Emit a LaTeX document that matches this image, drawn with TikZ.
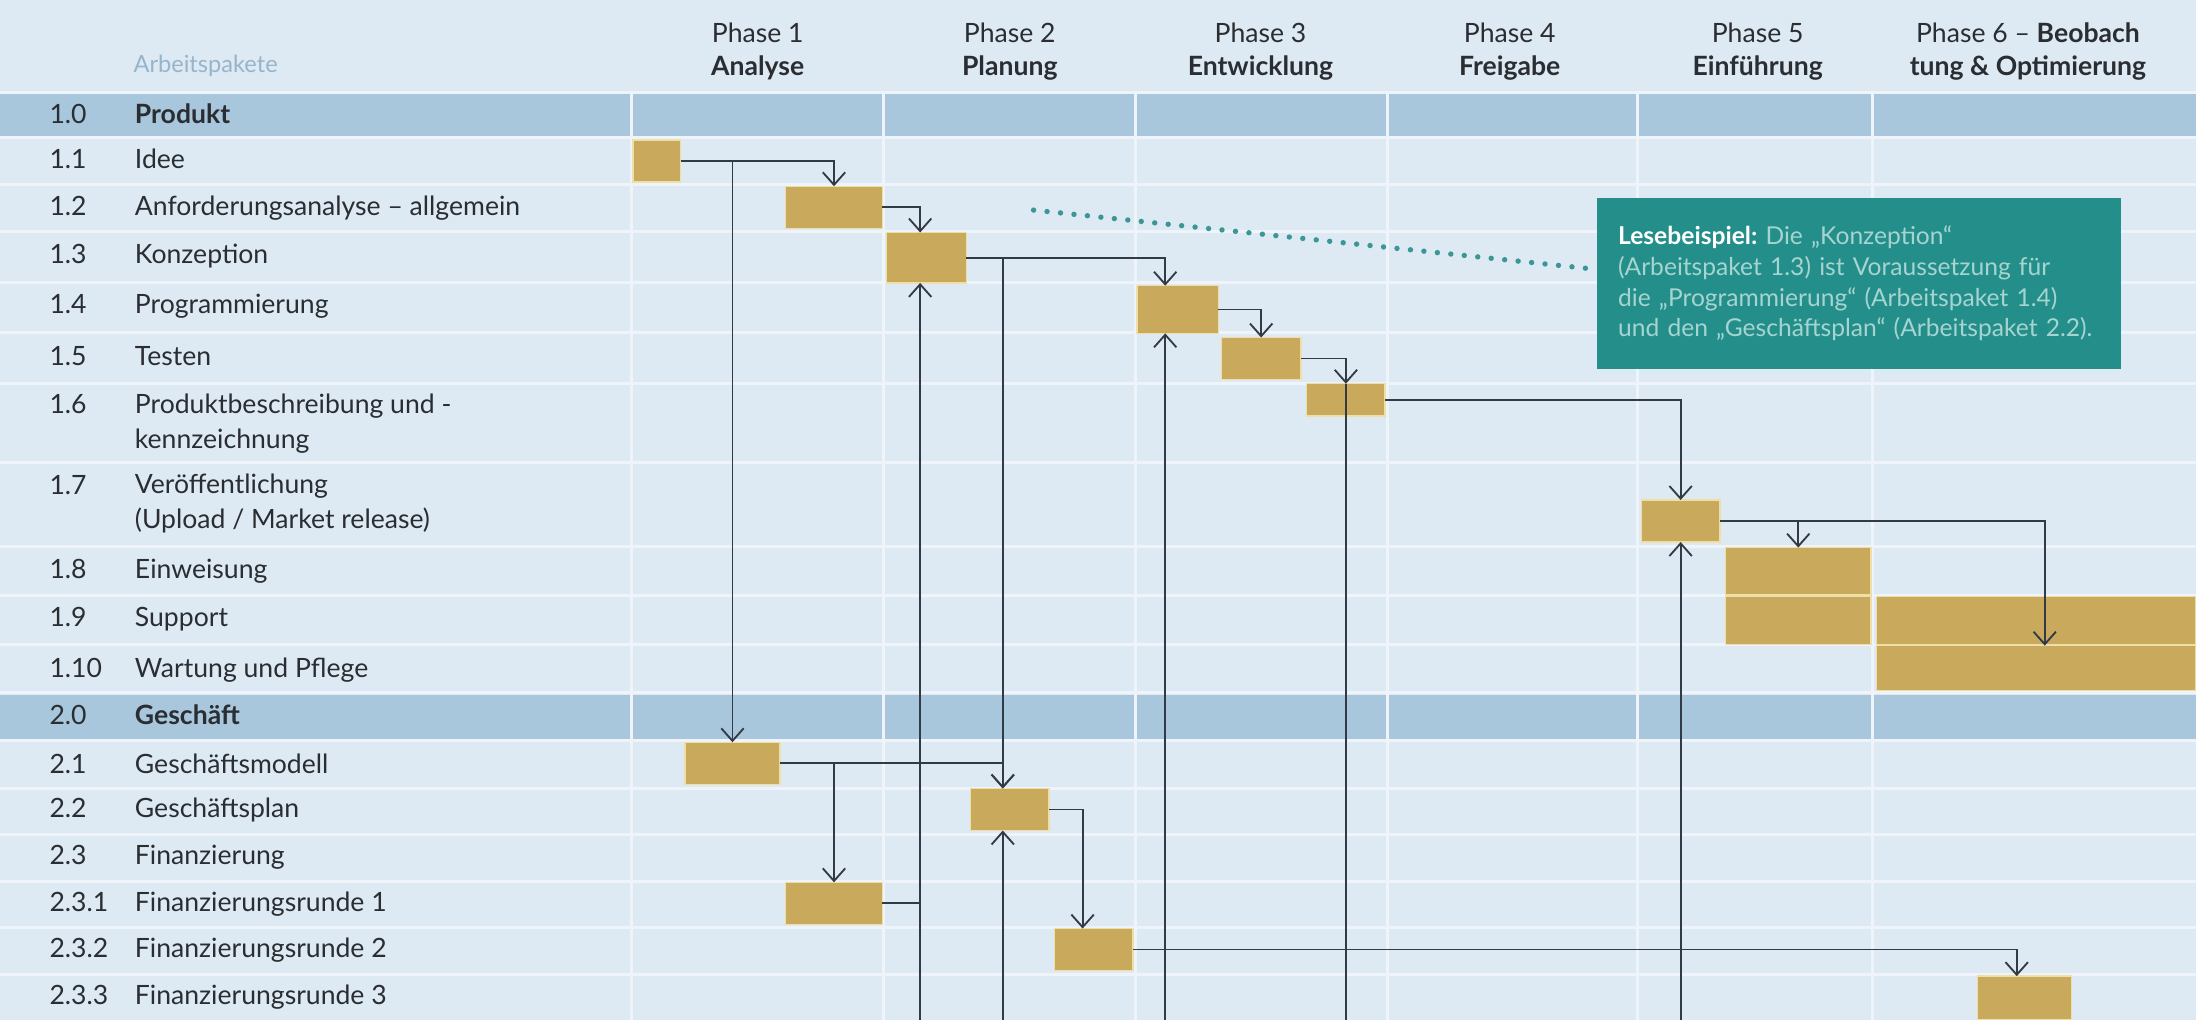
\documentclass[tikz,border=0pt]{standalone}
\usepackage{fontspec}
\setmainfont{Lato}
\usetikzlibrary{arrows.meta,positioning}

\definecolor{bgblue}{RGB}{222,234,243}
\definecolor{secblue}{RGB}{168,199,220}
\definecolor{gridwhite}{RGB}{238,244,249}
\definecolor{gold}{RGB}{201,170,93}
\definecolor{goldedge}{RGB}{238,222,168}
\definecolor{notegreen}{RGB}{36,143,138}
\definecolor{notetxt}{RGB}{165,212,209}
\definecolor{dotgreen}{RGB}{60,150,150}
\definecolor{linegray}{RGB}{50,58,70}
\definecolor{txt}{RGB}{42,45,50}
\definecolor{headtxt}{RGB}{150,180,204}

\newcommand\wpfont{\fontsize{10.8}{14.2}\selectfont}
\newcommand\phfont{\fontsize{10.8}{13.6}\selectfont}
\newcommand\ntfont{\fontsize{10}{12.5}\selectfont}
\newcommand\wpbar[5]{\node[wpbar, minimum width={(#4-#2)*0.02cm}, minimum height={(#5-#3)*0.02cm}] (#1) at ({(#2+#4)/2},{(#3+#5)/2}) {};}

\begin{document}
\begin{tikzpicture}[
  x=0.02cm, y=-0.02cm,
  wpbar/.style={draw=goldedge, line width=0.6pt, fill=gold, inner sep=0pt, outer sep=0pt},
  dep/.style={-{Straight Barb[length=1.8mm,width=3.2mm]}, line width=0.75pt, draw=linegray},
  link/.style={line width=0.75pt, draw=linegray},
  num/.style={anchor=base west, inner sep=0pt, font=\wpfont, text=txt},
  task/.style={anchor=base west, inner sep=0pt, font=\wpfont, text=txt, align=left},
  phase/.style={anchor=base, inner sep=0pt, align=center, font=\phfont, text=txt},
  gridline/.style={draw=gridwhite, line width=1.2pt},
  note/.style={fill=notegreen, text=notetxt, align=left, font=\ntfont, inner xsep=0.3cm, inner ysep=0pt, text width=6.88cm, minimum height=2.44cm},
  pointer/.style={draw=dotgreen, line width=2.2pt, line cap=round, dash pattern=on 0pt off 5.5pt}
]
\useasboundingbox (0,0) rectangle (1568,728);
\fill[bgblue] (0,0) rectangle (1568,728);
\fill[secblue] (0,67) rectangle (1568,98);
\fill[secblue] (0,496) rectangle (1568,528);
\foreach \y in {66,98.5,131.5,165.5,201.5,237.5,273.5,330.5,390.5,425.5,460.5,494.5,528.5,563,596,629.5,662.5,695.5}
  \draw[gridline] (0,\y) -- (1568,\y);
\foreach \x in {451,631,811,991,1169,1337}
  \draw[gridline] (\x,66) -- (\x,728);

\node[anchor=base west, inner sep=0pt, font=\fontsize{9.6}{12}\selectfont, text=headtxt] (head) at (95,52) {Arbeitspakete};
\node[phase] (ph1) at (541,54) {Phase 1\\\textbf{Analyse}};
\node[phase] (ph2) at (721,54) {Phase 2\\\textbf{Planung}};
\node[phase] (ph3) at (900,54) {Phase 3\\\textbf{Entwicklung}};
\node[phase] (ph4) at (1078,54) {Phase 4\\\textbf{Freigabe}};
\node[phase] (ph5) at (1255,54) {Phase 5\\\textbf{Einführung}};
\node[phase] (ph6) at (1448,54) {Phase 6 – \textbf{Beobach}\\\textbf{tung \& Optimierung}};

\node[num] (n10) at (35,88) {1.0};
\node[task] (t10) at (96,88) {\textbf{Produkt}};
\node[num] (n11) at (35,120) {1.1};
\node[task] (t11) at (96,120) {Idee};
\node[num] (n12) at (35,154) {1.2};
\node[task] (t12) at (96,154) {Anforderungsanalyse – allgemein};
\node[num] (n13) at (35,188) {1.3};
\node[task] (t13) at (96,188) {Konzeption};
\node[num] (n14) at (35,224) {1.4};
\node[task] (t14) at (96,224) {Programmierung};
\node[num] (n15) at (35,261) {1.5};
\node[task] (t15) at (96,261) {Testen};
\node[num] (n16) at (35,295) {1.6};
\node[task] (t16) at (96,320) {Produktbeschreibung und -\\kennzeichnung};
\node[num] (n17) at (35,353) {1.7};
\node[task] (t17) at (96,377) {Veröffentlichung\\(Upload / Market release)};
\node[num] (n18) at (35,413) {1.8};
\node[task] (t18) at (96,413) {Einweisung};
\node[num] (n19) at (35,447) {1.9};
\node[task] (t19) at (96,447) {Support};
\node[num] (n110) at (35,484) {1.10};
\node[task] (t110) at (96,484) {Wartung und Pflege};
\node[num] (n20) at (35,517) {2.0};
\node[task] (t20) at (96,517) {\textbf{Geschäft}};
\node[num] (n21) at (35,552) {2.1};
\node[task] (t21) at (96,552) {Geschäftsmodell};
\node[num] (n22) at (35,584) {2.2};
\node[task] (t22) at (96,584) {Geschäftsplan};
\node[num] (n23) at (35,617) {2.3};
\node[task] (t23) at (96,617) {Finanzierung};
\node[num] (n231) at (35,651) {2.3.1};
\node[task] (t231) at (96,651) {Finanzierungsrunde 1};
\node[num] (n232) at (35,684) {2.3.2};
\node[task] (t232) at (96,684) {Finanzierungsrunde 2};
\node[num] (n233) at (35,717) {2.3.3};
\node[task] (t233) at (96,717) {Finanzierungsrunde 3};

\wpbar{b11}{452}{100}{486}{130}
\wpbar{b12}{561}{133}{630}{163}
\wpbar{b13}{633}{166}{690}{202}
\wpbar{b14}{812}{204}{870}{238}
\wpbar{b15}{872}{241}{929}{271}
\wpbar{b16}{933}{274}{989}{297}
\wpbar{b17}{1172}{357}{1228}{387}
\wpbar{b18}{1232}{391}{1336}{425}
\wpbar{b19a}{1232}{426}{1336}{460}
\wpbar{b19b}{1340}{426}{1568}{460}
\wpbar{b110}{1340}{461}{1568}{493}
\wpbar{b21}{489}{530}{557}{560}
\wpbar{b22}{693}{563}{749}{593}
\wpbar{b231}{561}{630}{630}{660}
\wpbar{b232}{753}{663}{809}{693}
\wpbar{b233}{1412}{697}{1479}{728}

\coordinate (bottom) at (0,728);
\coordinate (k13) at (657,0);
\coordinate (k14) at (832,0);
\coordinate (k22) at (716,0);
\coordinate (k232) at (773,0);
\coordinate (k233) at (1440,0);
\coordinate (k110) at (1460,0);

\draw[dep] (b11.east) -| (b12.north);
\draw[dep] (b11.east -| b21.north) -- (b21.north);
\draw[dep] (b12.east) -| (b13.north -| k13);
\draw[dep] (b13.east) -| (b14.north -| k14);
\draw[dep] (b13.east -| k22) -- (b22.north -| k22);
\draw[dep] (bottom -| k13) -- (b13.south -| k13);
\draw[link] (b231.east) -- (b231.east -| k13);
\draw[dep] (bottom -| k22) -- (b22.south -| k22);
\draw[dep] (bottom -| k14) -- (b14.south -| k14);
\draw[dep] (b14.east) -| (b15.north);
\draw[dep] (b15.east) -| (b16.north);
\draw[link] (b16.north) -- (bottom -| b16.north);
\draw[dep] (b16.east) -| (b17.north);
\draw[dep] (bottom -| b17.south) -- (b17.south);
\draw[dep] (b17.east) -| (b18.north);
\draw[dep] (b17.east) -| (b110.north -| k110);
\draw[dep] (b21.east) -| (b22.north -| k22);
\draw[dep] (b21.east -| b231.north) -- (b231.north);
\draw[dep] (b22.east) -| (b232.north -| k232);
\draw[dep] (b232.east) -| (b233.north -| k233);

\node[note, anchor=north west] (note) at (1140,141) {\textcolor{white}{\textbf{Lesebeispiel:}}\ Die „Konzeption“\\(Arbeitspaket 1.3) ist Voraussetzung für\\die „Programmierung“ (Arbeitspaket 1.4)\\und den „Geschäftsplan“ (Arbeitspaket 2.2).};
\coordinate (ptr) at (738,150);
\draw[pointer] (ptr) -- ([yshift=0.2cm]note.west);
\end{tikzpicture}
\end{document}
